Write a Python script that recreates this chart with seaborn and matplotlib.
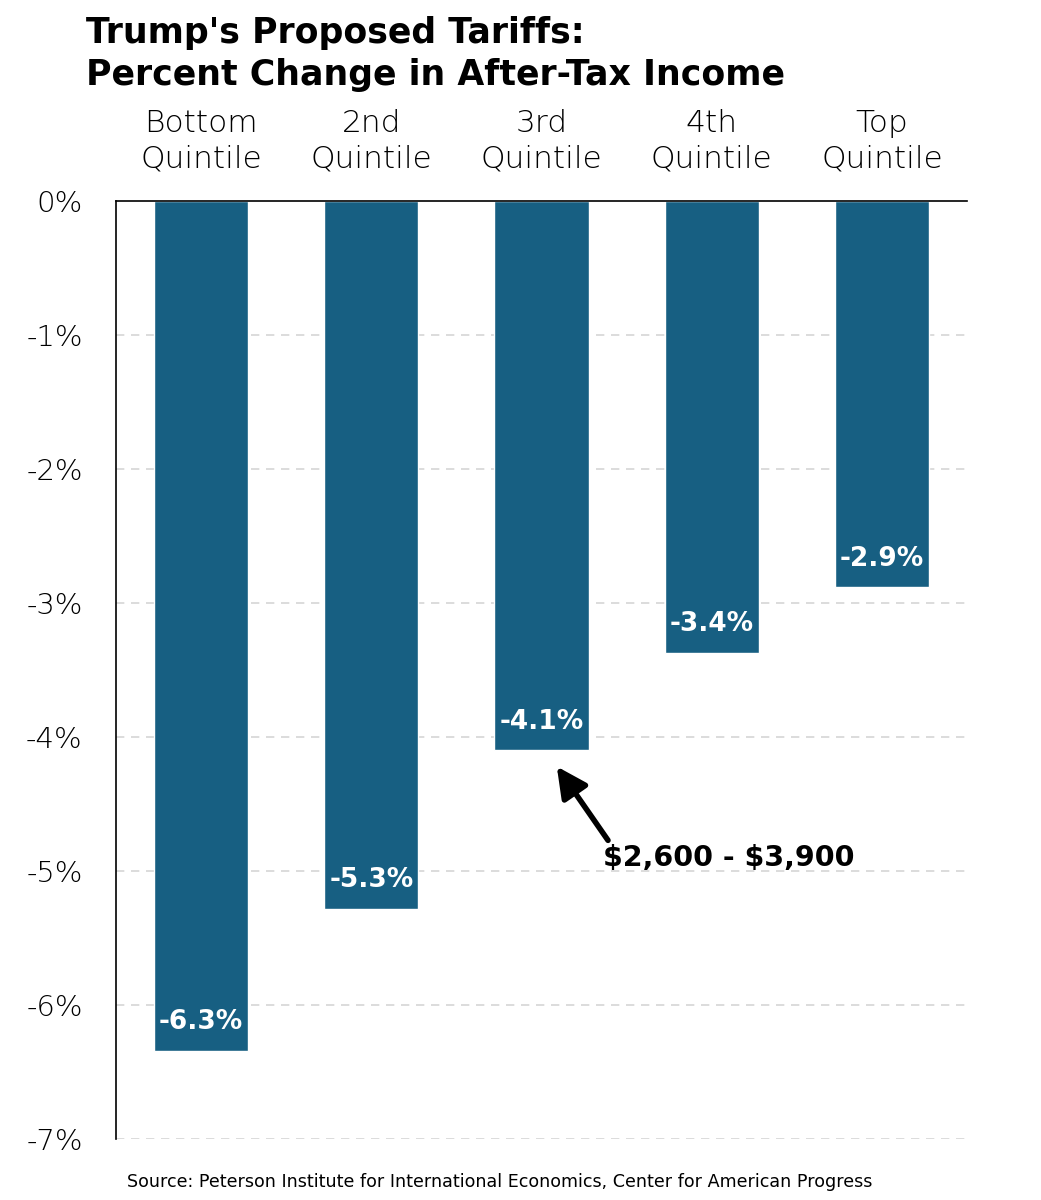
import matplotlib
matplotlib.use("Agg")
import matplotlib.pyplot as plt
import seaborn as sns
import pandas as pd

# data
quintiles = ["Bottom\nQuintile", "2nd\nQuintile", "3rd\nQuintile", "4th\nQuintile", "Top\nQuintile"]
change_pct = [-6.34, -5.28, -4.10, -3.37, -2.88]
bar_labels = ["-6.3%", "-5.3%", "-4.1%", "-3.4%", "-2.9%"]
y_ticks = [0, -1, -2, -3, -4, -5, -6, -7]
y_ticklabels = ["0%", "-1%", "-2%", "-3%", "-4%", "-5%", "-6%", "-7%"]

df = pd.DataFrame({"quintile": quintiles, "change": change_pct})

sns.set_style("white")
plt.rcParams["font.family"] = ["DejaVu Sans"]
plt.rcParams["text.color"] = "black"
plt.rcParams["xtick.color"] = "black"
plt.rcParams["ytick.color"] = "black"

fig = plt.figure(figsize=(10.41, 12), dpi=100)
ax = fig.add_axes([0.1114, 0.0508, 0.8175, 0.7817])

sns.barplot(data=df, x="quintile", y="change", color="#175F82", saturation=1,
            width=0.553, ax=ax)

ax.set_ylim(-7, 0)
ax.set_xlim(-0.5, 4.5)
ax.set_yticks(y_ticks)
ax.set_yticklabels(y_ticklabels, fontsize=21)
ax.set_xlabel("")
ax.set_ylabel("")

ax.xaxis.tick_top()
ax.tick_params(axis="x", length=0, pad=20, labelsize=22.5)
ax.tick_params(axis="y", length=0, pad=24)
for lbl in ax.get_xticklabels() + ax.get_yticklabels():
    lbl.set_fontweight("light")
    lbl.set_color("black")
for lbl in ax.get_xticklabels():
    lbl.set_linespacing(1.25)

for y in y_ticks[1:]:
    ax.axhline(y, color="#D6D6D6", lw=1.2, ls=(0, (5, 4)), zorder=0)

for s in ["right", "bottom"]:
    ax.spines[s].set_visible(False)
ax.spines["top"].set_color("black")
ax.spines["left"].set_color("black")
ax.spines["top"].set_linewidth(1.2)
ax.spines["left"].set_linewidth(1.2)

for i, (v, t) in enumerate(zip(change_pct, bar_labels)):
    ax.text(i, v + 0.21, t, ha="center", va="center", color="white",
            fontsize=19, fontweight="bold")

ax.annotate(r"\$2,600 - \$3,900", xy=(2.09, -4.22), xytext=(2.36, -4.9),
            fontsize=20.5, fontweight="bold", ha="left", va="center", color="black",
            arrowprops=dict(arrowstyle="-|>,head_width=0.45,head_length=0.9",
                            color="black", lw=4, shrinkA=0, shrinkB=0,
                            relpos=(0.03, 1.0)))

fig.text(0.083, 0.955, "Trump's Proposed Tariffs:\nPercent Change in After-Tax Income",
         fontsize=25, fontweight="bold", ha="left", va="center", linespacing=1.3,
         color="black")

fig.text(0.122, 0.015, "Source: Peterson Institute for International Economics, Center for American Progress",
         fontsize=12.6, ha="left", va="center", color="black")

fig.savefig("out.png", dpi=100)
